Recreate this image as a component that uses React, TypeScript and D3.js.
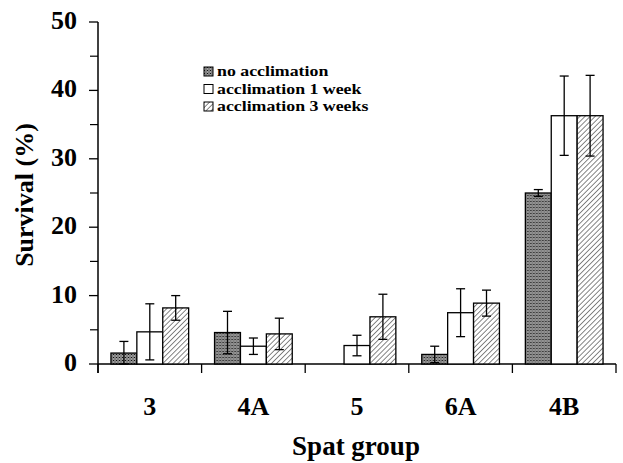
import { scaleBand, scaleLinear, range } from 'd3';

const groups = ['3', '4A', '5', '6A', '4B'];
const series = ['no acclimation', 'acclimation 1 week', 'acclimation 3 weeks'];

// mean survival (%) per group, one array per series
const noAccl = [1.6, 4.6, 0, 1.4, 25.0];
const accl1 = [4.7, 2.6, 2.7, 7.5, 36.3];
const accl3 = [8.2, 4.4, 6.9, 8.9, 36.3];

// error bar half-widths (null = no error bar drawn)
const errNo = [1.7, 3.1, null, 1.2, 0.5];
const err1 = [4.1, 1.2, 1.5, 3.5, 5.8];
const err3 = [1.8, 2.3, 3.3, 1.9, 5.9];

const yTicks = [0, 10, 20, 30, 40, 50];

const values = [noAccl, accl1, accl3];
const errors = [errNo, err1, err3];
const fills = ['url(#stipple)', '#fff', 'url(#hatch)'];

const font = '"Liberation Serif", "Times New Roman", serif';

export default function App() {
    const left = 98;
    const right = 616;
    const top = 22;
    const bottom = 364;

    const x = scaleBand().domain(groups).range([left, right]);
    const inner = scaleBand()
        .domain(series)
        .range([0, x.bandwidth()])
        .paddingOuter(0.5)
        .paddingInner(0);
    const y = scaleLinear().domain([0, 50]).range([bottom, top]);

    const minor = range(5, 50, 10);
    const bounds = groups.map((g) => x(g) as number).concat([right]);

    return (
        <svg
            width={623}
            height={463}
            style={{ position: 'absolute', left: 0, top: 0, background: '#fff' }}
        >
            <defs>
                <pattern id="stipple" width={3} height={3} patternUnits="userSpaceOnUse">
                    <rect width={3} height={3} fill="#a0a0a0" />
                    <rect width={1} height={1} fill="#111" />
                    <rect x={1.5} y={1.5} width={1} height={1} fill="#222" />
                    <rect x={1.5} y={0} width={1} height={1} fill="#666" />
                </pattern>
                <pattern
                    id="hatch"
                    width={3.6}
                    height={3.6}
                    patternUnits="userSpaceOnUse"
                    patternTransform="rotate(45)"
                >
                    <rect width={3.6} height={3.6} fill="#fff" />
                    <line x1={0} y1={0} x2={0} y2={3.6} stroke="#222" strokeWidth={1.1} />
                </pattern>
            </defs>

            {/* y axis */}
            <line x1={left} x2={left} y1={top} y2={bottom + 9} stroke="#000" strokeWidth={1.5} />
            {yTicks.map((t) => (
                <g key={t}>
                    <line x1={left - 9} x2={left} y1={y(t)} y2={y(t)} stroke="#000" strokeWidth={1.3} />
                    <text
                        x={77}
                        y={y(t) + 7}
                        textAnchor="end"
                        fontFamily={font}
                        fontWeight="bold"
                        fontSize={26}
                    >
                        {t}
                    </text>
                </g>
            ))}
            {minor.map((t) => (
                <line key={t} x1={left - 8} x2={left} y1={y(t)} y2={y(t)} stroke="#000" strokeWidth={1.2} />
            ))}
            <text
                transform={`translate(33, ${(top + bottom) / 2 + 2}) rotate(-90)`}
                textAnchor="middle"
                fontFamily={font}
                fontWeight="bold"
                fontSize={26}
            >
                Survival (%)
            </text>

            {/* x axis */}
            <line x1={left} x2={right} y1={bottom} y2={bottom} stroke="#000" strokeWidth={1.5} />
            {bounds.map((b, i) => (
                <line key={i} x1={b} x2={b} y1={bottom} y2={bottom + 9} stroke="#000" strokeWidth={1.3} />
            ))}
            {groups.map((g) => (
                <text
                    key={g}
                    x={(x(g) as number) + x.bandwidth() / 2}
                    y={415}
                    textAnchor="middle"
                    fontFamily={font}
                    fontWeight="bold"
                    fontSize={26}
                >
                    {g}
                </text>
            ))}
            <text
                x={356}
                y={455}
                textAnchor="middle"
                fontFamily={font}
                fontWeight="bold"
                fontSize={27}
            >
                Spat group
            </text>

            {/* bars */}
            {groups.map((g, gi) => (
                <g key={g} transform={`translate(${x(g)},0)`}>
                    {series.map((s, si) => {
                        const v = values[si][gi];
                        const e = errors[si][gi];
                        const bx = inner(s) as number;
                        const cx = bx + inner.bandwidth() / 2;
                        return (
                            <g key={s}>
                                {v > 0 && (
                                    <rect
                                        x={bx}
                                        y={y(v)}
                                        width={inner.bandwidth()}
                                        height={bottom - y(v)}
                                        fill={fills[si]}
                                        stroke="#000"
                                        strokeWidth={1.3}
                                    />
                                )}
                                {e != null && (
                                    <g stroke="#000" strokeWidth={1.3}>
                                        <line x1={cx} x2={cx} y1={y(v + e)} y2={y(Math.max(0, v - e))} />
                                        <line x1={cx - 4.5} x2={cx + 4.5} y1={y(v + e)} y2={y(v + e)} />
                                        <line
                                            x1={cx - 4.5}
                                            x2={cx + 4.5}
                                            y1={y(Math.max(0, v - e))}
                                            y2={y(Math.max(0, v - e))}
                                        />
                                    </g>
                                )}
                            </g>
                        );
                    })}
                </g>
            ))}

            {/* legend */}
            {series.map((s, i) => (
                <g key={s} transform={`translate(204, ${67 + i * 17.5})`}>
                    <rect width={9} height={9} fill={fills[i]} stroke="#000" strokeWidth={1} />
                    <text
                        transform="translate(13, 9) scale(1.15, 1)"
                        fontFamily={font}
                        fontWeight="bold"
                        fontSize={15.5}
                    >
                        {s}
                    </text>
                </g>
            ))}
        </svg>
    );
}
